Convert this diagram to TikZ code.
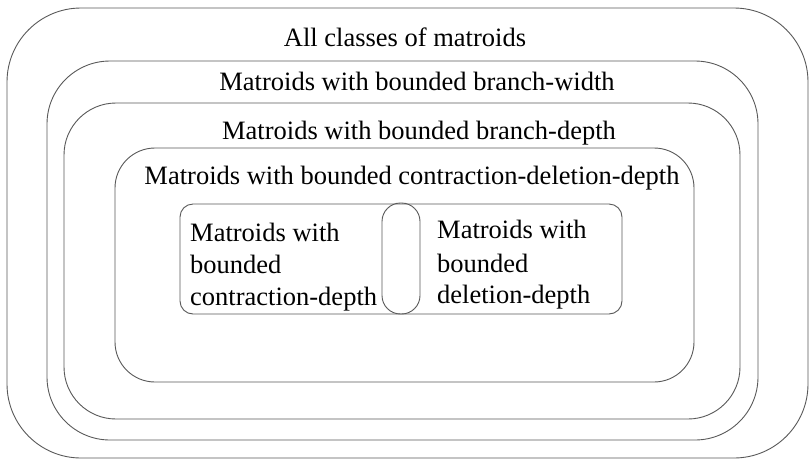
\documentclass[tikz,border=0pt]{standalone}
\usepackage{fontspec}
\setmainfont{Liberation Serif}
\begin{document}
\begin{tikzpicture}[x=1pt,y=-1pt,
  region/.style={draw=black!65, line width=0.9pt, rectangle, inner sep=0pt},
  lbl/.style={inner sep=0pt, font=\fontsize{26.5}{32}\selectfont},
  mlbl/.style={lbl, align=left, anchor=north west}]
\useasboundingbox (0,0) rectangle (809,459);
\fill[white] (0,0) rectangle (809,459);
% nested regions
\node[region, rounded corners=74pt, minimum width=801pt, minimum height=450pt] (all) at (407.5,233) {};
\node[region, rounded corners=63pt, minimum width=711pt, minimum height=379pt] (bw) at (402.5,250.5) {};
\node[region, rounded corners=52pt, minimum width=676pt, minimum height=316pt] (bd) at (402,261) {};
\node[region, rounded corners=40pt, minimum width=579pt, minimum height=234pt] (cdd) at (404.5,265) {};
\node[region, rounded corners=13pt, minimum width=442pt, minimum height=110pt] (cd) at (401,259) {};
\node[region, rounded corners=18.5pt, minimum width=38pt, minimum height=111pt] (ov) at (401,258.5) {};
% labels
\node[lbl, anchor=base] (tall) at (405,46) {All classes of matroids};
\node[lbl, anchor=base] (tbw) at (417,90) {Matroids with bounded branch-width};
\node[lbl, anchor=base] (tbd) at (419,139) {Matroids with bounded branch-depth};
\node[lbl, anchor=base] (tcdd) at (412,184) {Matroids with bounded contraction-deletion-depth};
\node[lbl, anchor=base west] (tc1) at (190,241) {Matroids with};
\node[lbl, anchor=base west] (tc2) at (190,273) {bounded};
\node[lbl, anchor=base west] (tc3) at (190,305) {contraction-depth};
\node[lbl, anchor=base west] (td1) at (437,238) {Matroids with};
\node[lbl, anchor=base west] (td2) at (437,272) {bounded};
\node[lbl, anchor=base west] (td3) at (437,303) {deletion-depth};
\end{tikzpicture}
\end{document}
